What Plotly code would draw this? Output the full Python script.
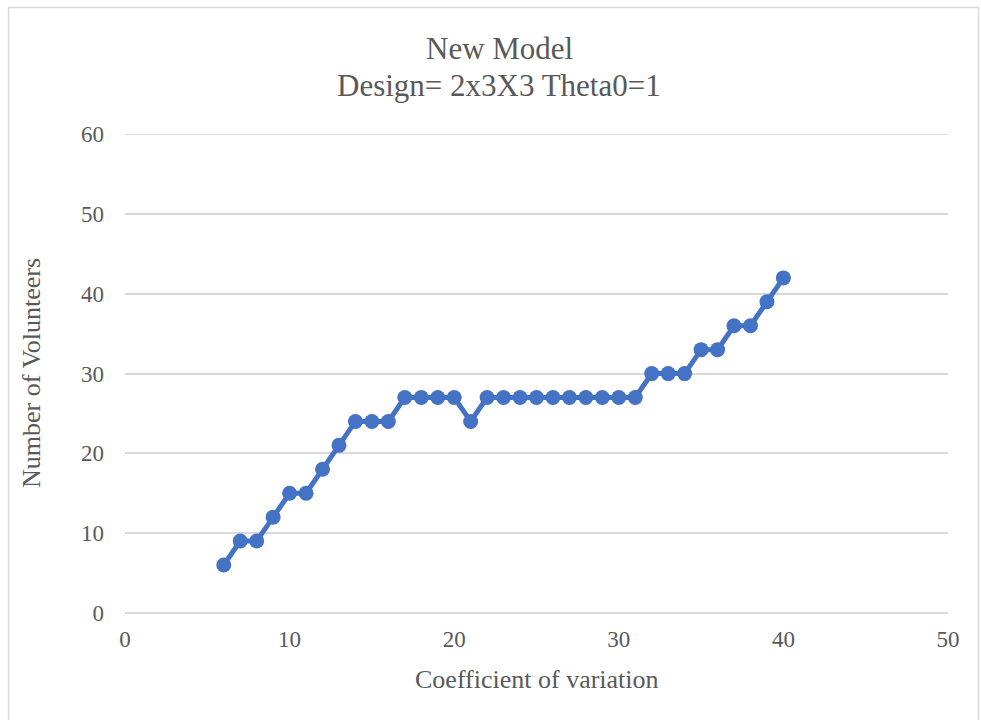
import plotly.graph_objects as go

# Coefficient of variation vs. number of volunteers
cv = list(range(6, 41))
volunteers = [6, 9, 9, 12, 15, 15, 18, 21, 24, 24, 24, 27, 27, 27, 27, 24, 27,
              27, 27, 27, 27, 27, 27, 27, 27, 27, 30, 30, 30, 33, 33, 36, 36, 39, 42]

title_lines = ["New Model", "Design= 2x3X3 Theta0=1"]
x_title = "Coefficient of variation"
y_title = "Number of Volunteers"
x_ticks = [0, 10, 20, 30, 40, 50]
y_ticks = [0, 10, 20, 30, 40, 50, 60]

FONT = "Liberation Serif, Times New Roman, serif"
TEXT = "#595959"
GRID = "#D9D9D9"
BLUE = "#4472C4"

W, H = 981, 720
L, R, T, B = 125, 33, 134, 107

fig = go.Figure()
fig.add_trace(go.Scatter(
    x=cv, y=volunteers, mode="lines+markers",
    line=dict(color=BLUE, width=5),
    marker=dict(color=BLUE, size=15),
    showlegend=False, hoverinfo="x+y",
))

fig.update_layout(
    width=W, height=H,
    margin=dict(l=L, r=R, t=T, b=B),
    paper_bgcolor="white", plot_bgcolor="white",
    font=dict(family=FONT, color=TEXT),
    xaxis=dict(range=[x_ticks[0], x_ticks[-1]], tickvals=x_ticks,
               showgrid=False, zeroline=False, showline=False,
               tickfont=dict(size=23, color=TEXT), ticks="",
               ticklabelstandoff=10, fixedrange=True),
    yaxis=dict(range=[-0.02, y_ticks[-1] + 0.04], tickvals=y_ticks,
               showgrid=True, gridcolor=GRID, gridwidth=1.5,
               zeroline=True, zerolinecolor=GRID, zerolinewidth=1.5, showline=False,
               tickfont=dict(size=23, color=TEXT), ticks="",
               ticklabelstandoff=20, fixedrange=True),
)

# Top gridline at the last tick, which sits on the plot edge
fig.add_hline(y=y_ticks[-1], line=dict(color=GRID, width=1.5), layer="below")

pw = W - L - R
ph = H - T - B
def px_x(p):
    return (p - L) / pw
def px_y(p):
    return (H - B - p) / ph

def label(text, xp, yp, size, angle=0):
    fig.add_annotation(text=text, x=px_x(xp), y=px_y(yp), xref="paper", yref="paper",
                       xanchor="center", yanchor="middle", showarrow=False,
                       textangle=angle, font=dict(size=size, color=TEXT, family=FONT))

# Chart title (two lines)
label(title_lines[0], 499, 48, 31)
label(title_lines[1], 499, 86, 31)

# Axis titles
label(x_title, 537, 679, 26)
label(y_title, 31, 373, 26, angle=-90)

# Chart-area border
fig.add_shape(type="rect", xref="paper", yref="paper",
              x0=px_x(8.5), x1=px_x(978.5), y0=px_y(730), y1=px_y(7.5),
              line=dict(color="#D9D9D9", width=1.5), fillcolor="rgba(0,0,0,0)", layer="below")

fig.write_html("out.html")
